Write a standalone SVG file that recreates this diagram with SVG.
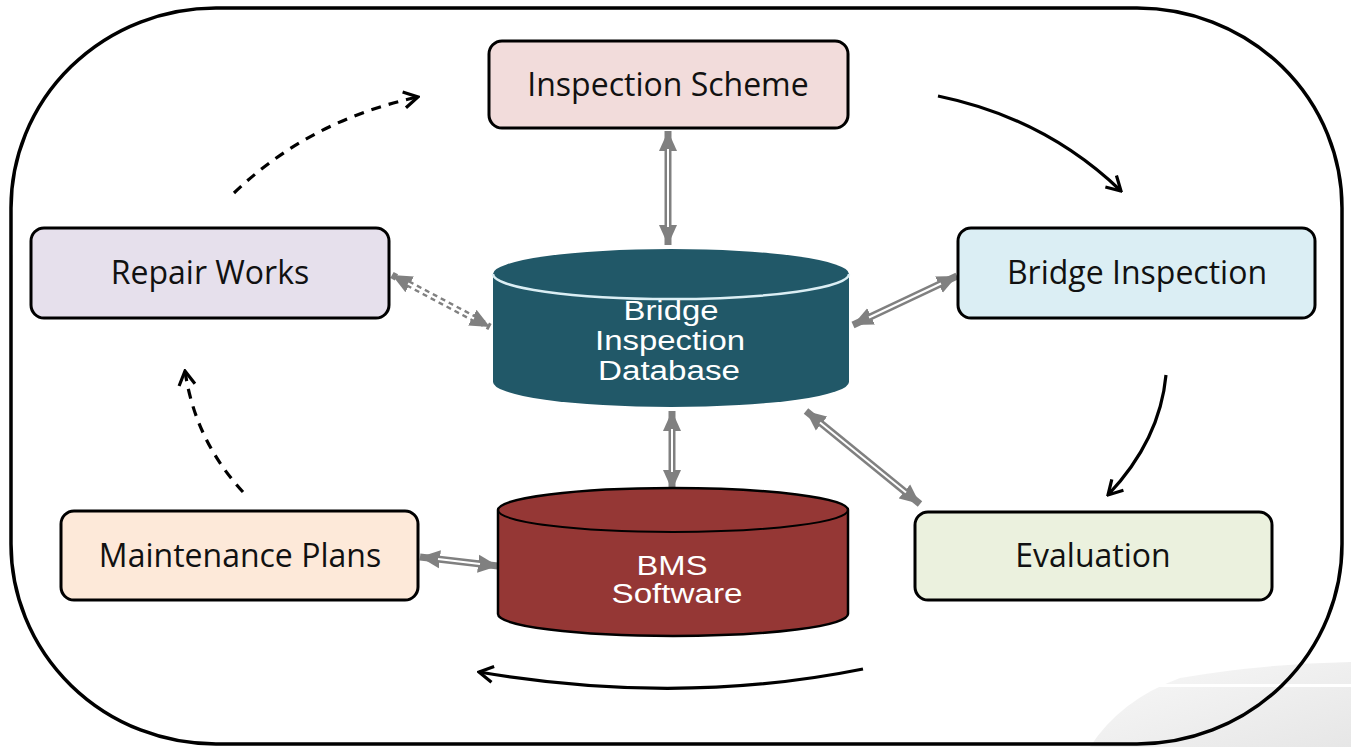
<svg xmlns="http://www.w3.org/2000/svg" width="1351" height="747" viewBox="0 0 1351 747">
<style>
.box{stroke:#000;stroke-width:3}
.lbl{font-family:"Open Sans","Liberation Sans",sans-serif;font-size:32px;fill:#111;text-anchor:middle}
.dbt{font-family:"Liberation Sans",Arial,sans-serif;font-size:27px;fill:#fff;text-anchor:middle}
.g{fill:none;stroke:#808080;stroke-width:7;marker-start:url(#gh);marker-end:url(#gh)}
.w{fill:none;stroke:#fff;stroke-width:2}
.k{fill:none;stroke:#000;stroke-width:3.2;marker-end:url(#kh)}
.kd{stroke-dasharray:10 8}
</style>
<defs>
<marker id="gh" markerUnits="userSpaceOnUse" viewBox="0 0 20 20" refX="20" refY="10" markerWidth="20" markerHeight="20" orient="auto-start-reverse">
<path d="M0,1 L20,10 L0,19 Z" fill="#808080"/>
</marker>
<marker id="kh" markerUnits="userSpaceOnUse" viewBox="0 0 20 20" refX="18" refY="10" markerWidth="20" markerHeight="20" orient="auto">
<path d="M4,2 L18,10 L4,18" fill="none" stroke="#000" stroke-width="3.2" stroke-linejoin="miter"/>
</marker>
<linearGradient id="sw" x1="0" y1="0" x2="1" y2="1">
<stop offset="0" stop-color="#f6f6f6"/>
<stop offset="1" stop-color="#dedede"/>
</linearGradient>
</defs>
<rect width="1351" height="747" fill="#fff"/>
<g id="background">
<path d="M1180,678 Q1260,664 1351,662 L1351,747 L1090,747 Q1120,700 1180,678 Z" fill="url(#sw)" opacity="0.75"/>
<rect x="1100" y="684" width="251" height="3" fill="#fff"/>
</g>
<g id="frame">
<rect x="11" y="8" width="1331" height="736" rx="205" ry="200" fill="none" stroke="#000" stroke-width="3.5"/>
</g>
<g id="connectors">
<path class="g" d="M668,131 L668,245"/><path class="w" d="M668,149 L668,227"/>
<path class="g" d="M392,275 L490,327" stroke-dasharray="5 4"/><path class="w" d="M408,283.5 L474,318.5"/>
<path class="g" d="M853,325 L957,276"/><path class="w" d="M869,317.5 L941,283.5"/>
<path class="g" d="M672,411 L672,490"/><path class="w" d="M672,429 L672,472"/>
<path class="g" d="M806,411 L920,504"/><path class="w" d="M820,422.5 L906,492.5"/>
<path class="g" d="M420,557 L498,566"/><path class="w" d="M438,559 L480,564"/>
<path class="k" d="M938,96 Q1045,118 1121,191"/>
<path class="k" d="M1166,375 Q1160,440 1108,495"/>
<path class="k" d="M863,669 Q680,706 479,672"/>
<path class="k kd" d="M243,492 Q195,440 185,371"/>
<path class="k kd" d="M234,193 Q310,120 418,97"/>
</g>
<g id="inspection-scheme">
<rect class="box" x="489" y="41" width="359" height="87" rx="13" fill="#f2dcdb"/>
<text class="lbl" x="668" y="96">Inspection Scheme</text>
</g>
<g id="repair-works">
<rect class="box" x="31" y="228" width="358" height="90" rx="13" fill="#e6e0ec"/>
<text class="lbl" x="210" y="284">Repair Works</text>
</g>
<g id="bridge-inspection">
<rect class="box" x="958" y="228" width="357" height="90" rx="13" fill="#dbeef4"/>
<text class="lbl" x="1137" y="284">Bridge Inspection</text>
</g>
<g id="maintenance-plans">
<rect class="box" x="61" y="511" width="357" height="89" rx="13" fill="#fde9d9"/>
<text class="lbl" x="240" y="567">Maintenance Plans</text>
</g>
<g id="evaluation">
<rect class="box" x="915" y="512" width="357" height="88" rx="13" fill="#ebf1de"/>
<text class="lbl" x="1093" y="567">Evaluation</text>
</g>
<g id="database">
<path d="M493,274 L493,382 A178,25 0 0 0 849,382 L849,274 A178,25 0 0 0 493,274 Z" fill="#215868"/>
<path d="M493,274 A178,25 0 0 0 849,274" fill="none" stroke="#dbeef4" stroke-width="2.5"/>
<text class="dbt" x="671" y="320" textLength="95" lengthAdjust="spacingAndGlyphs">Bridge</text>
<text class="dbt" x="670" y="350" textLength="150" lengthAdjust="spacingAndGlyphs">Inspection</text>
<text class="dbt" x="669" y="380" textLength="142" lengthAdjust="spacingAndGlyphs">Database</text>
</g>
<g id="bms-software">
<path d="M498,510 L498,614 A175,22 0 0 0 848,614 L848,510 A175,22 0 0 0 498,510 Z" fill="#953735" stroke="#000" stroke-width="2.5"/>
<path d="M498,510 A175,22 0 0 0 848,510" fill="none" stroke="#000" stroke-width="2"/>
<text class="dbt" x="672" y="575" textLength="71" lengthAdjust="spacingAndGlyphs">BMS</text>
<text class="dbt" x="677" y="603" textLength="131" lengthAdjust="spacingAndGlyphs">Software</text>
</g>
</svg>
